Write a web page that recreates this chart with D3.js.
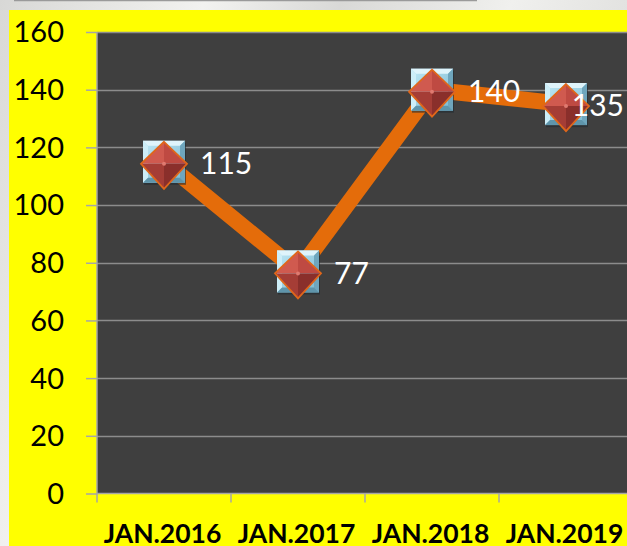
<!DOCTYPE html>
<html><head><meta charset="utf-8">
<script src="https://cdn.jsdelivr.net/npm/d3@7"></script>
<style>html,body{margin:0;padding:0;background:#e6e6e4;}svg{display:block;}</style>
</head><body>
<script>
const categories = ["JAN.2016", "JAN.2017", "JAN.2018", "JAN.2019"];
const values = [115, 77, 140, 135];
const yTicks = [0, 20, 40, 60, 80, 100, 120, 140, 160];

const W = 627, H = 546;
const svg = d3.select("body").append("svg").attr("width", W).attr("height", H);
const defs = svg.append("defs");

// background texture
const bg = defs.append("linearGradient").attr("id","bgGrad").attr("x1","0").attr("y1","0").attr("x2","1").attr("y2","0.3");
bg.append("stop").attr("offset","0").attr("stop-color","#d8d8d6");
bg.append("stop").attr("offset","0.3").attr("stop-color","#f2f2f0");
bg.append("stop").attr("offset","0.5").attr("stop-color","#d9d9d7");
bg.append("stop").attr("offset","0.75").attr("stop-color","#f0f0ee");
bg.append("stop").attr("offset","1").attr("stop-color","#dcdcda");
svg.append("rect").attr("width",W).attr("height",H).attr("fill","url(#bgGrad)");
svg.append("line").attr("x1",14).attr("x2",477).attr("y1",0.5).attr("y2",0.5).attr("stroke","#9a9a9a").attr("stroke-width",1.5);

// yellow panel
svg.append("rect").attr("x",9).attr("y",10).attr("width",W-9).attr("height",H-10).attr("fill","#ffff00");

const pLeft = 97, pTop = 32, pBottom = 493.5, step = 134;
const x = d3.scaleBand().domain(categories).range([pLeft, pLeft + step*categories.length]).padding(0);
const y = d3.scaleLinear().domain([0,160]).range([pBottom, pTop]);

// plot area
svg.append("rect").attr("x",pLeft).attr("y",pTop).attr("width",W-pLeft).attr("height",pBottom-pTop).attr("fill","#3f3f3f");

// gridlines
svg.append("g").selectAll("line").data(yTicks.filter(d=>d>0)).join("line")
  .attr("x1",pLeft).attr("x2",W).attr("y1",d=>Math.round(y(d))+0.5).attr("y2",d=>Math.round(y(d))+0.5)
  .attr("stroke","#8c8c8c").attr("stroke-width",1.3);

// y axis
const yAxis = d3.axisLeft(y).tickValues(yTicks).tickSize(11).tickPadding(22);
const gy = svg.append("g").attr("transform",`translate(${pLeft},0)`).call(yAxis);
gy.select(".domain").attr("stroke","#a6a6a6").attr("stroke-width",1.5).attr("d",`M0,${pTop}V${pBottom}`);
gy.selectAll(".tick line").attr("stroke","#a6a6a6").attr("stroke-width",1.5);
gy.selectAll(".tick text").attr("fill","#000").attr("font-family","Lato, sans-serif").attr("font-size",29).attr("dy","0.34em");

// x axis
const xAxis = d3.axisBottom(x).tickSize(0).tickPadding(0);
const gx = svg.append("g").attr("transform",`translate(0,${pBottom})`).call(xAxis);
gx.select(".domain").attr("stroke","#a6a6a6").attr("stroke-width",1.5).attr("d",`M${pLeft},0H${W}`);
gx.selectAll(".tick text").attr("fill","#000").attr("font-family","Lato, sans-serif").attr("font-weight","bold")
  .attr("font-size",26.5).attr("y",49).attr("dy",0).attr("dx",-1.5);
// category boundary ticks
svg.append("g").selectAll("line").data(categories).join("line")
  .attr("x1",d=>x(d)).attr("x2",d=>x(d)).attr("y1",pBottom).attr("y2",pBottom+9)
  .attr("stroke","#a6a6a6").attr("stroke-width",1.5);

const cx = d => x(d) + x.bandwidth()/2;
const pts = categories.map((c,i)=>({c, v:values[i], px:cx(c), py:y(values[i])}));

// line
svg.append("path").datum(pts)
  .attr("d", d3.line().x(d=>d.px).y(d=>d.py))
  .attr("fill","none").attr("stroke","#e46c0a").attr("stroke-width",16).attr("stroke-linejoin","round");

// marker gradients
const sq = defs.append("linearGradient").attr("id","sqGrad").attr("x1","0").attr("y1","0").attr("x2","1").attr("y2","1");
sq.append("stop").attr("offset","0").attr("stop-color","#bfe8f5");
sq.append("stop").attr("offset","1").attr("stop-color","#7ab8d0");

const mk = svg.append("g").selectAll("g").data(pts).join("g")
  .attr("transform",d=>`translate(${d.px},${d.py})`);
const s = 21, b = 5;
mk.append("rect").attr("x",-s+1).attr("y",-s+2).attr("width",2*s).attr("height",2*s).attr("fill","#1f2a30").attr("opacity",0.6);
mk.append("rect").attr("x",-s).attr("y",-s).attr("width",2*s).attr("height",2*s).attr("fill","url(#sqGrad)");
mk.append("path").attr("d",`M${-s},${-s}L${s},${-s}L${s-b},${-s+b}L${-s+b},${-s+b}Z`).attr("fill","#dff4fb");
mk.append("path").attr("d",`M${-s},${-s}L${-s+b},${-s+b}L${-s+b},${s-b}L${-s},${s}Z`).attr("fill","#cdeef8");
mk.append("path").attr("d",`M${s},${-s}L${s},${s}L${s-b},${s-b}L${s-b},${-s+b}Z`).attr("fill","#6fa6bd");
mk.append("path").attr("d",`M${-s},${s}L${s},${s}L${s-b},${s-b}L${-s+b},${s-b}Z`).attr("fill","#5f95ab");
// diamond (pyramid)
const dx = 23, dyT = 22, dyB = 25, oy = 2;
const T=[0,-dyT+oy], R=[dx,oy], B=[0,dyB+oy], L=[-dx,oy], C=[0,oy];
const tri = (a,b2,c)=>`M${a}L${b2}L${c}Z`;
mk.append("path").attr("d",tri(T,L,C)).attr("fill","#d05a4f");
mk.append("path").attr("d",tri(T,R,C)).attr("fill","#bf4a42");
mk.append("path").attr("d",tri(L,B,C)).attr("fill","#a53d36");
mk.append("path").attr("d",tri(R,B,C)).attr("fill","#8a2f2b");
mk.append("path").attr("d",`M${T}L${R}L${B}L${L}Z`).attr("fill","none").attr("stroke","#e0661a").attr("stroke-width",1.8).attr("stroke-linejoin","miter");
mk.append("circle").attr("cx",0).attr("cy",oy).attr("r",2).attr("fill","#e07a70");

// data labels
const lbl = svg.append("g").selectAll("text").data(pts).join("text")
  .attr("font-family","Lato, sans-serif").attr("font-size",30).attr("fill","#fff")
  .attr("dy","0.36em").attr("y",d=>d.py+1.5).text(d=>d.v);
lbl.each(function(d){
  const w = this.getComputedTextLength();
  const xx = Math.min(d.px + 36, W - 3 - w);
  d3.select(this).attr("x", xx);
});
</script>
</body></html>
